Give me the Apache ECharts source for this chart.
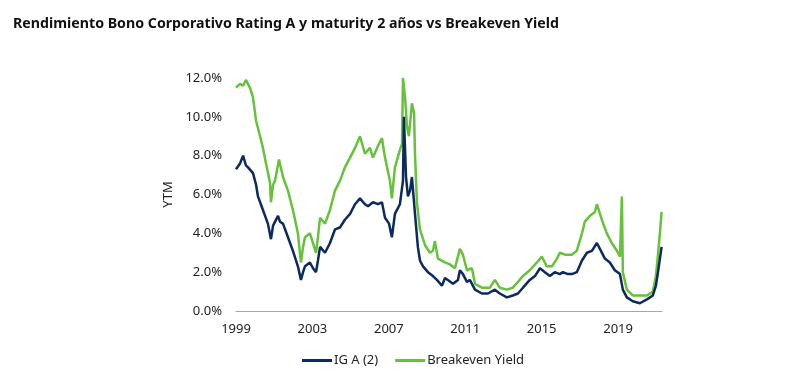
<!DOCTYPE html>
<html>
<head>
<meta charset="utf-8">
<script src="https://cdn.jsdelivr.net/npm/echarts@6/dist/echarts.min.js"></script>
<style>html,body{margin:0;padding:0;background:#fff}#c{width:800px;height:390px}</style>
</head>
<body>
<div id="c"></div>
<script>
var titleText = 'Rendimiento Bono Corporativo Rating A y maturity 2 años vs Breakeven Yield';
var seriesNames = ['IG A (2)', 'Breakeven Yield'];
var yTicks = [0, 2, 4, 6, 8, 10, 12];
var xTickYears = [1999, 2003, 2007, 2011, 2015, 2019];

var igYears = [1999.00,1999.21,1999.37,1999.52,1999.63,1999.89,2000.05,2000.15,2000.41,2000.67,2000.83,2000.94,2001.04,2001.20,2001.30,2001.46,2001.72,2001.98,2002.24,2002.40,2002.51,2002.61,2002.87,2003.03,2003.19,2003.29,2003.40,2003.66,2003.92,2004.18,2004.44,2004.70,2004.97,2005.23,2005.49,2005.75,2005.91,2006.17,2006.43,2006.64,2006.80,2007.01,2007.16,2007.32,2007.58,2007.74,2007.79,2007.90,2008.00,2008.11,2008.21,2008.37,2008.52,2008.63,2008.79,2009.05,2009.31,2009.52,2009.78,2009.94,2010.09,2010.36,2010.62,2010.72,2010.88,2011.09,2011.24,2011.51,2011.87,2012.19,2012.55,2012.81,2013.18,2013.49,2013.76,2014.02,2014.38,2014.65,2014.91,2015.17,2015.43,2015.69,2015.95,2016.11,2016.37,2016.58,2016.84,2017.11,2017.37,2017.63,2017.89,2018.05,2018.31,2018.57,2018.83,2019.10,2019.25,2019.46,2019.77,2020.14,2020.51,2020.82,2020.98,2021.09,2021.19,2021.28];
var igValues = [7.3,7.6,8.0,7.5,7.4,7.1,6.5,5.9,5.2,4.5,3.7,4.4,4.3,4.9,4.6,4.5,3.8,3.1,2.3,1.6,2.0,2.3,2.5,2.2,2.0,2.6,3.3,3.0,3.5,4.2,4.3,4.7,5.0,5.5,5.8,5.5,5.4,5.6,5.5,5.6,4.8,4.5,3.8,5.0,5.5,6.7,10.0,6.9,5.9,6.2,6.9,5.0,3.3,2.6,2.3,2.0,1.8,1.6,1.3,1.7,1.6,1.4,1.6,2.1,1.9,1.5,1.6,1.1,0.9,0.9,1.1,0.9,0.7,0.8,0.9,1.2,1.6,1.8,2.2,2.0,1.8,2.0,1.9,2.0,1.9,1.9,2.0,2.6,3.0,3.1,3.5,3.2,2.7,2.5,2.1,1.9,1.1,0.7,0.5,0.4,0.6,0.8,1.3,2.0,2.7,3.3];

var beYears = [1999.00,1999.21,1999.37,1999.52,1999.73,1999.89,2000.05,2000.26,2000.41,2000.57,2000.78,2000.83,2000.94,2001.04,2001.25,2001.46,2001.72,2001.98,2002.24,2002.40,2002.51,2002.61,2002.87,2003.03,2003.19,2003.29,2003.40,2003.66,2003.92,2004.18,2004.44,2004.70,2004.97,2005.23,2005.49,2005.75,2006.01,2006.17,2006.43,2006.64,2006.80,2007.06,2007.16,2007.32,2007.58,2007.69,2007.74,2007.85,2007.95,2008.05,2008.21,2008.32,2008.37,2008.47,2008.63,2008.89,2009.15,2009.31,2009.41,2009.57,2009.94,2010.20,2010.46,2010.56,2010.72,2010.88,2011.09,2011.35,2011.51,2011.87,2012.29,2012.55,2012.81,2013.18,2013.49,2013.76,2014.02,2014.38,2014.75,2015.01,2015.27,2015.54,2015.80,2015.95,2016.22,2016.58,2016.84,2017.11,2017.26,2017.53,2017.79,2017.89,2018.15,2018.41,2018.67,2018.94,2019.10,2019.15,2019.20,2019.25,2019.46,2019.77,2020.14,2020.51,2020.82,2020.98,2021.09,2021.19,2021.28];
var beValues = [11.5,11.7,11.6,11.9,11.5,11.0,9.8,9.0,8.4,7.6,6.6,5.6,6.5,6.7,7.8,6.9,6.2,5.2,4.0,2.5,3.3,3.8,4.0,3.5,3.0,3.8,4.8,4.5,5.2,6.2,6.7,7.4,7.9,8.4,9.0,8.1,8.4,7.9,8.5,8.9,7.9,6.7,5.8,7.4,8.3,8.6,12.0,11.0,9.5,9.0,10.7,10.2,8.1,5.6,4.2,3.4,3.0,3.1,3.6,2.7,2.5,2.4,2.2,2.3,3.2,2.9,2.1,2.2,1.4,1.2,1.2,1.6,1.2,1.1,1.2,1.5,1.8,2.1,2.5,2.8,2.3,2.3,2.7,3.0,2.9,2.9,3.1,4.0,4.6,4.9,5.1,5.5,4.7,4.0,3.5,3.1,2.8,2.7,5.9,2.0,1.1,0.8,0.8,0.8,1.0,1.8,2.9,4.0,5.1];

function pairs(xs, ys) { return xs.map(function (x, i) { return [x, ys[i]]; }); }

var chart = echarts.init(document.getElementById('c'), null, {renderer: 'canvas'});
chart.setOption({
  backgroundColor: '#ffffff',
  animation: false,
  textStyle: {fontFamily: 'Noto Sans'},
  title: {
    text: titleText, left: 8, top: 12,
    textStyle: {fontFamily: 'Noto Sans', fontSize: 14.2, fontWeight: 'bold', color: '#111'}
  },
  legend: {
    data: seriesNames, bottom: 18, left: 297, itemWidth: 30, itemHeight: 3, itemGap: 17,
    icon: 'rect',
    textStyle: {fontFamily: 'Noto Sans', fontSize: 13, color: '#222', padding: [0, 0, 0, -3]}
  },
  grid: {left: 236, right: 138, top: 78, bottom: 79},
  xAxis: {
    type: 'value', min: 1999, max: 2021.3, interval: 4,
    axisLine: {show: true, lineStyle: {color: '#a6a6a6', width: 1}},
    axisTick: {show: false}, splitLine: {show: false},
    axisLabel: {
      showMaxLabel: false, margin: 12, fontSize: 13, color: '#222', fontFamily: 'Noto Sans',
      formatter: function (v) { return xTickYears.indexOf(Math.round(v)) >= 0 && Math.abs(v - Math.round(v)) < 1e-6 ? String(Math.round(v)) : ''; }
    }
  },
  yAxis: {
    type: 'value', min: yTicks[0], max: yTicks[yTicks.length - 1], interval: 2,
    name: 'YTM', nameLocation: 'middle', nameGap: 55, nameRotate: 90,
    nameTextStyle: {fontFamily: 'Noto Sans', fontSize: 13, color: '#222'},
    axisLine: {show: false}, axisTick: {show: false}, splitLine: {show: false},
    axisLabel: {margin: 14, fontSize: 13, color: '#222', fontFamily: 'Noto Sans',
      formatter: function (v) { return v.toFixed(1) + '%'; }}
  },
  series: [
    {name: seriesNames[0], type: 'line', data: pairs(igYears, igValues), symbol: 'none', z: 3,
      lineStyle: {color: '#0c2a5e', width: 2.5}, itemStyle: {color: '#0c2a5e'}},
    {name: seriesNames[1], type: 'line', data: pairs(beYears, beValues), symbol: 'none', z: 2,
      lineStyle: {color: '#66c23a', width: 2.5}, itemStyle: {color: '#66c23a'}}
  ]
});
</script>
</body>
</html>
